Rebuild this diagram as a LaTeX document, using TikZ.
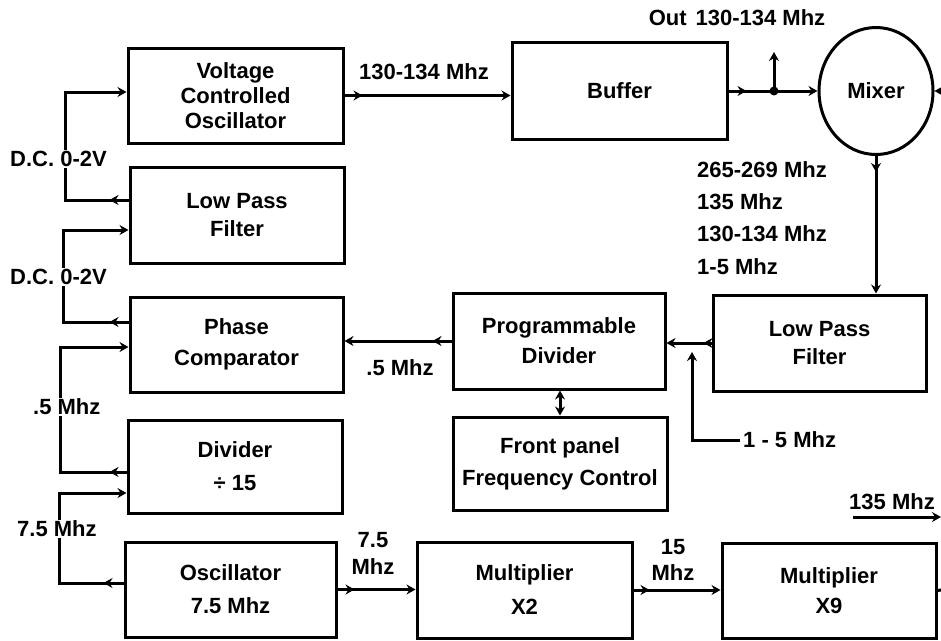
\documentclass[tikz,border=0pt]{standalone}
\usepackage{fontspec}
\setmainfont{Liberation Sans}
\usetikzlibrary{arrows.meta,decorations.markings,shapes.geometric}
\tikzset{
  >={Stealth[length=9pt,width=10pt,inset=3pt]},
  every node/.style={font=\fontsize{22}{31}\selectfont\bfseries},
  blk/.style={draw,line width=3pt,align=center,inner sep=0pt},
  wire/.style={line width=3pt},
  midarrow/.style={postaction={decorate},decoration={markings,mark=at position #1 with {\arrow{>}}}},
  lbl/.style={inner sep=1pt},
  cut/.style={lbl,fill=white,anchor=west},
}
\begin{document}
\begin{tikzpicture}[x=1pt,y=-1pt]
\useasboundingbox (0,0) rectangle (941,640);
% boxes
\node[blk,minimum width=215,minimum height=95,font=\fontsize{22}{25}\selectfont\bfseries] (vco) at (235.5,95.5) {Voltage\\Controlled\\Oscillator};
\node[blk,minimum width=215,minimum height=97] (buf) at (619.5,91) {Buffer};
\node[blk,ellipse,minimum width=114,minimum height=127] (mix) at (876,91) {Mixer};
\node[blk,minimum width=214,minimum height=96,font=\fontsize{22}{28}\selectfont\bfseries] (lpf1) at (237,215) {Low Pass\\Filter};
\node[blk,minimum width=213,minimum height=95] (pc) at (236.5,344.5) {Phase\\Comparator};
\node[blk,minimum width=214,minimum height=93,font=\fontsize{22}{33}\selectfont\bfseries] (dv) at (235,466.5) {Divider\\÷ 15};
\node[blk,minimum width=211,minimum height=95,font=\fontsize{22}{33}\selectfont\bfseries] (osc) at (230.5,589.5) {Oscillator\\7.5 Mhz};
\node[blk,minimum width=212,minimum height=96,font=\fontsize{22}{30}\selectfont\bfseries] (pd) at (559,341) {Programmable\\Divider};
\node[blk,minimum width=214,minimum height=93,font=\fontsize{22}{32}\selectfont\bfseries] (fp) at (560,463.5) {Front panel\\Frequency Control};
\node[blk,minimum width=213,minimum height=96,font=\fontsize{22}{28}\selectfont\bfseries] (lpf2) at (819.5,343) {Low Pass\\Filter};
\node[blk,minimum width=215,minimum height=96,font=\fontsize{22}{34}\selectfont\bfseries] (m2) at (524.5,590) {Multiplier\\X2};
\node[blk,minimum width=214,minimum height=95,font=\fontsize{22}{30}\selectfont\bfseries] (m9) at (829,590.5) {Multiplier\\X9};
% top chain
\draw[wire,->,midarrow=18pt] (vco.east) -- (vco.east -| buf.west);
\node[lbl] (l1) at (424,72) {130-134 Mhz};
\coordinate (j) at (774,91);
\coordinate (outp) at (774,52);
\draw[wire,midarrow=18pt] (buf.east) -- (j);
\draw[wire,->] (j) -- (j -| mix.west);
\draw[wire,->] (j) -- (outp);
\fill (j) circle (4.5pt);
\node[lbl] (lout) at (737,18) {Out\hspace{9pt}130-134 Mhz};
\coordinate (mr) at (941,91);
\draw[wire,->] (mr) -- (mix.east);
\draw[wire,->,midarrow=16pt] (mix.south) -- (mix.south |- lpf2.north);
\node[lbl,anchor=west] (f1) at (696,170) {265-269 Mhz};
\node[lbl,anchor=west] (f2) at (696,202) {135 Mhz};
\node[lbl,anchor=west] (f3) at (696,234) {130-134 Mhz};
\node[lbl,anchor=west] (f4) at (696,267) {1-5 Mhz};
% middle chain
\draw[wire,->,midarrow=8pt] (lpf2.west) -- (lpf2.west -| pd.east);
\node[lbl,anchor=west,inner sep=3pt] (f15) at (740,440) {1 - 5 Mhz};
\coordinate (f15tip) at (692,352);
\draw[wire,->] (f15.west) -| (f15tip);
\draw[wire,->,midarrow=19pt] (pd.west) -- (pd.west -| pc.east);
\node[lbl] (l05) at (400,368) {.5 Mhz};
\draw[wire,<->] (fp.north) -- (fp.north |- pd.south);
% bottom chain
\draw[wire,->,midarrow=17pt] (osc.east) -- (osc.east -| m2.west);
\node[lbl,align=center,font=\fontsize{22}{27}\selectfont\bfseries] (l75) at (373,553) {7.5\\Mhz};
\draw[wire,->,midarrow=16pt] (m2.east) -- (m2.east -| m9.west);
\node[lbl,align=center,font=\fontsize{22}{26}\selectfont\bfseries] (l15) at (673,560) {15\\Mhz};
\coordinate (m9out) at (941,590);
\draw[wire] (m9.east) -- (m9out);
\node[lbl] (l135) at (892,502) {135 Mhz};
\coordinate (c135a) at (853,517);
\coordinate (c135b) at (941,517);
\draw[wire,->] (c135a) -- (c135b);
% left loops
\draw[wire,->,midarrow=19pt] ([yshift=15pt]lpf1.west) -- ++(-63,0) |- ([yshift=3.5pt]vco.west);
\node[cut] (dc1) at (9,159) {D.C. 0-2V};
\draw[wire,->,midarrow=19pt] ([yshift=22.5pt]pc.west) -- ++(-65,0) |- ([yshift=-15pt]lpf1.west);
\node[cut] (dc2) at (9,277) {D.C. 0-2V};
\draw[wire,->,midarrow=17pt] ([yshift=-5.5pt]dv.west) -- ++(-66,0) |- ([yshift=-2.5pt]pc.west);
\node[cut] (l05b) at (32,407) {.5 Mhz};
\draw[wire,->,midarrow=20pt] ([yshift=6.5pt]osc.west) -- ++(-64,0) |- ([yshift=-26.5pt]dv.west);
\node[cut] (l75b) at (16,529) {7.5 Mhz};
\end{tikzpicture}
\end{document}
